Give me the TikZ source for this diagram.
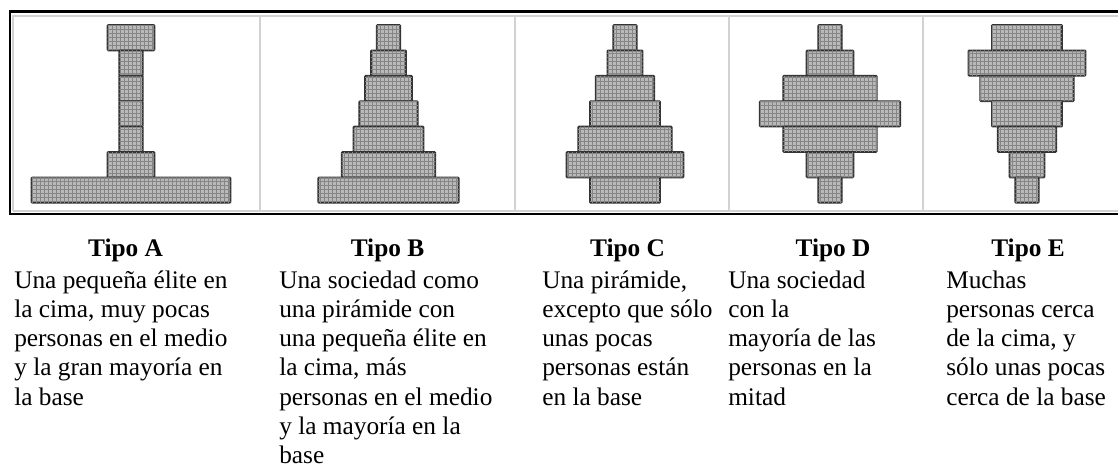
\documentclass[tikz,border=0pt]{standalone}
\usepackage{fontspec}
\setmainfont{Liberation Serif}
\usetikzlibrary{patterns}

\tikzset{
  bloque/.style={draw=black!80, line width=1.3pt, rounded corners=0.6pt, fill=gray!55,
    postaction={pattern=grid, pattern color=gray!95}},
  separador/.style={draw=gray!35, line width=1.5pt},
  titulo/.style={anchor=base, inner sep=0pt, font=\fontsize{19}{21.9}\selectfont\bfseries},
  texto/.style={anchor=north west, inner sep=0pt, align=left, font=\fontsize{19}{21.9}\selectfont},
}

\begin{document}
\begin{tikzpicture}[x=0.75pt, y=-0.75pt]
  \useasboundingbox (0,0) rectangle (1118,465);
  % cuadro de la tabla
  \foreach \sx in {12.5,260,515,729,923}
    \draw[separador] (\sx,15) -- (\sx,211);
  \draw[separador] (12.5,15.5) -- (1118,15.5) (12.5,211) -- (1118,211);
  \draw[line width=2.25pt] (9,11.5) -- (1118,11.5);
  \draw[line width=1.5pt] (10,11) -- (10,214) -- (1118,214);
  % piramides: centro / anchos de las filas
  \foreach \cx/\anchos in {131/{4,2,2,2,2,4,17}, 388.5/{2,3,4,5,6,8,12},
      625/{2,3,5,6,8,10,6}, 830/{2,4,8,12,8,4,2}, 1027/{6,10,8,6,5,3,2}}
    \foreach \w [count=\r from 0] in \anchos
      \draw[bloque] ({\cx-\w*5.85},{25+\r*25.4}) rectangle ({\cx+\w*5.85},{50.4+\r*25.4});

  % titulos y descripciones
  \node[titulo] (tipoA) at (125.5,256) {Tipo A};
  \node[titulo] (tipoB) at (387.5,256) {Tipo B};
  \node[titulo] (tipoC) at (627.5,256) {Tipo C};
  \node[titulo] (tipoD) at (833,256) {Tipo D};
  \node[titulo] (tipoE) at (1028,256) {Tipo E};
  \node[texto] (descA) at (14,267.6) {\strut Una pequeña élite en\\la cima, muy pocas\\personas en el medio\\y la gran mayoría en\\la base};
  \node[texto] (descB) at (279,267.6) {\strut Una sociedad como\\una pirámide con\\una pequeña élite en\\la cima, más\\personas en el medio\\y la mayoría en la\\base};
  \node[texto] (descC) at (542,267.6) {\strut Una pirámide,\\excepto que sólo\\unas pocas\\personas están\\en la base};
  \node[texto] (descD) at (728,267.6) {\strut Una sociedad\\con la\\mayoría de las\\personas en la\\mitad};
  \node[texto] (descE) at (946,267.6) {\strut Muchas\\personas cerca\\de la cima, y\\sólo unas pocas\\cerca de la base};
\end{tikzpicture}
\end{document}
